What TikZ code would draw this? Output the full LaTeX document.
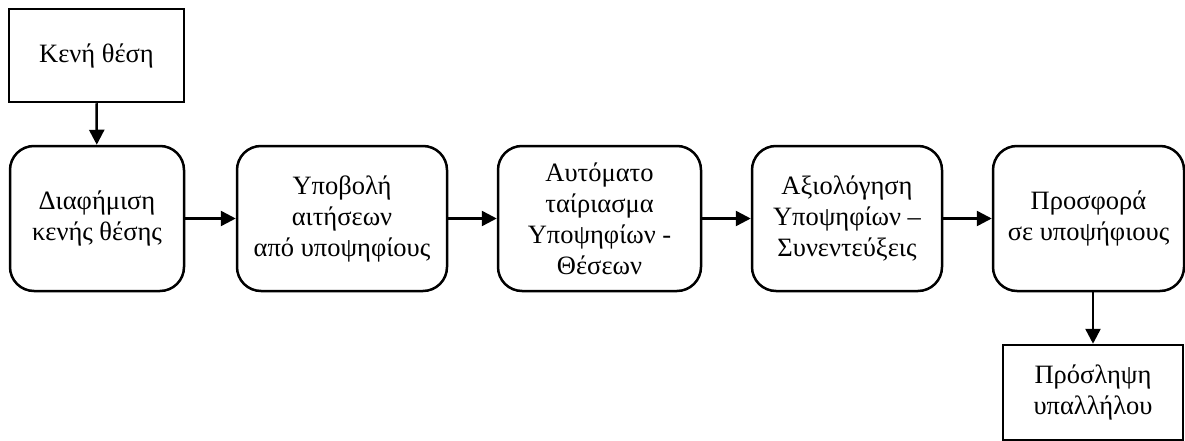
\documentclass[tikz,border=0pt]{standalone}
\usepackage{fontspec}
\setmainfont{Liberation Serif}
\usetikzlibrary{arrows.meta}
\begin{document}
\begin{tikzpicture}[x=1pt,y=-1pt,
  lbl/.style={font=\fontsize{26.5}{31}\selectfont, align=center, inner sep=0pt, line width=2.5pt, draw},
  plainbox/.style={lbl},
  stagebox/.style={lbl, rounded corners=24pt, minimum height=145pt},
  flow/.style={line width=2.5pt, -{Triangle[length=15pt,width=15pt]}}]
\useasboundingbox (0,0) rectangle (1185,441);
\node[plainbox, minimum width=175pt, minimum height=93pt] (top) at (96.5,55.5) {Κενή θέση};
\node[stagebox, minimum width=174pt] (b1) at (97,218.5) {Διαφήμιση\\κενής θέσης};
\node[stagebox, minimum width=210pt] (b2) at (342,218.5) {Υποβολή\\αιτήσεων\\από υποψηφίους};
\node[stagebox, minimum width=203pt] (b3) at (599.5,218.5) {Αυτόματο\\ταίριασμα\\Υποψηφίων -\\Θέσεων};
\node[stagebox, minimum width=190pt] (b4) at (847,218.5) {Αξιολόγηση\\Υποψηφίων –\\Συνεντεύξεις};
\node[stagebox, minimum width=191pt] (b5) at (1088.5,218.5) {Προσφορά\\σε υποψήφιους};
\node[plainbox, minimum width=180pt, minimum height=95pt] (bot) at (1093,392.5) {Πρόσληψη\\υπαλλήλου};
\draw[flow] (top) -- (b1);
\draw[flow] (b1) -- (b2);
\draw[flow] (b2) -- (b3);
\draw[flow] (b3) -- (b4);
\draw[flow] (b4) -- (b5);
\draw[flow] (b5.south -| bot) -- (bot);
\end{tikzpicture}
\end{document}
